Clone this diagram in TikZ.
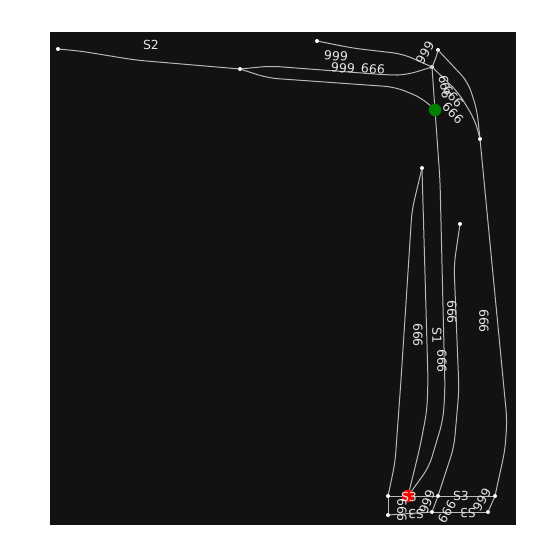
\documentclass[tikz,border=0pt]{standalone}
\usepackage{fontspec}
\setmainfont{DejaVu Sans}
\tikzset{
    dot/.style={circle, fill=white, inner sep=0pt, minimum size=4pt},
    wire/.style={draw=black!28, line width=1pt, line join=round, rounded corners=10pt},
    lbl/.style={text=white!90!black, font=\fontsize{12.5}{12.5}\selectfont, inner sep=0pt}
}
\begin{document}
\begin{tikzpicture}[x=1pt, y=-1pt]
        \useasboundingbox (0,0) rectangle (550,550);
        \fill[black!93] (50,32) rectangle (516,525);

        % Define nodes
        \node[dot] (A1) at (58,49) {};
        \node[dot] (A2) at (240,69) {};
        \node[dot] (T1) at (317,41) {};
        \node[dot] (T2) at (438,50) {};
        \node[dot] (J1) at (432,67) {};
        \node[dot] (R1) at (480,139) {};
        \node[dot] (M1) at (422,168) {};
        \node[dot] (M2) at (460,224) {};
        \node[dot] (B1) at (388,496) {};
        \node[dot] (B3) at (438,496) {};
        \node[dot] (B4) at (495,496) {};
        \node[dot] (C1) at (388,515) {};
        \node[dot] (C2) at (432,512) {};
        \node[dot] (C3) at (488,512) {};
        \node[circle, fill=green!50!black, inner sep=0pt, minimum size=12.5pt] (G1) at (435,110) {};
        \node[circle, fill=red, inner sep=0pt, minimum size=12.5pt] (B2) at (408,496) {};

        % Draw edges
        \draw[wire] (A1) -- (80,51) -- (135,60) -- (A2);
        \draw[wire] (T1) -- (352,48) -- (403,54) -- (J1);
        \draw[wire] (A2) -- (270,66) -- (388,75) -- (406,75) -- (J1);
        \draw[wire] (A2) -- (268,78) -- (395,87) -- (422,98) -- (G1);
        \draw[wire] (J1) -- (436,60) -- (T2);
        \draw[wire] (T2) -- (468,82) -- (477,110) -- (R1);
        \draw[wire] (J1) -- (458,92) -- (475,120) -- (R1);
        \draw[wire] (J1) -- (G1);
        \draw[wire] (G1) -- (440,180) -- (445,390) -- (443,420) -- (429,467) -- (B2);
        \draw[wire] (R1) -- (507,420) -- (505,450) -- (B4);
        \draw[wire] (M1) -- (428,380) -- (427,410) -- (420,447) -- (B2);
        \draw[wire] (M1) -- (412,210) -- (401,380) -- (395,463) -- (B1);
        \draw[wire] (M2) -- (454,265) -- (459,390) -- (454,447) -- (B3);
        \draw[wire] (B3) -- (C2);
        \draw[wire] (B1) -- (B2);
        \draw[wire] (B2) -- (B3);
        \draw[wire] (B3) -- (B4);
        \draw[wire] (C1) -- (C2);
        \draw[wire] (C2) -- (C3);
        \draw[wire] (B1) -- (C1);
        \draw[wire] (B4) -- (C3);

        % Labels
        \node[lbl] (L1) at (151,45) {S2};
        \node[lbl, rotate=-5] (L2) at (336,56) {999};
        \node[lbl, rotate=-5] (L3) at (343,68) {999};
        \node[lbl, rotate=-5] (L4) at (373,69) {666};
        \node[lbl, rotate=60] (L5) at (425,53) {999};
        \node[lbl, rotate=-80] (L6) at (445,87) {666};
        \node[lbl, rotate=-50] (L7) at (453,97) {666};
        \node[lbl, rotate=-45] (L8) at (453,113) {666};
        \node[lbl, rotate=-90] (L9) at (418,335) {666};
        \node[lbl, rotate=-90] (L10) at (437,335) {S1};
        \node[lbl, rotate=-90] (L11) at (442,361) {666};
        \node[lbl, rotate=-90] (L12) at (452,312) {666};
        \node[lbl, rotate=-90] (L13) at (484,321) {666};
        \node[lbl] (L14) at (409,497) {S3};
        \node[lbl] (L15) at (461,496) {S3};
        \node[lbl, rotate=180] (L16) at (416,514) {S3};
        \node[lbl, rotate=180] (L17) at (468,513) {S3};
        \node[lbl, rotate=-90] (L18) at (402,510) {666};
        \node[lbl, rotate=70] (L19) at (427,502) {999};
        \node[lbl, rotate=60] (L20) at (447,512) {666};
        \node[lbl, rotate=60] (L21) at (482,500) {999};
    \end{tikzpicture}
\end{document}
